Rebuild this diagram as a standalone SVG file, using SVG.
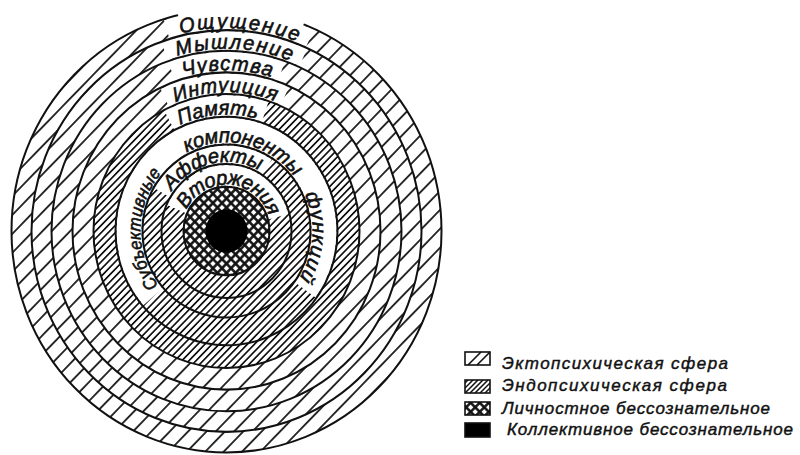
<svg xmlns="http://www.w3.org/2000/svg" width="800" height="455" viewBox="0 0 800 455">
<defs>
<pattern id="ectoA" patternUnits="userSpaceOnUse" width="13" height="13" patternTransform="rotate(45)">
<rect width="13" height="13" fill="#fff"/>
<line x1="6.5" y1="0" x2="6.5" y2="13" stroke="#111" stroke-width="1.7"/>
</pattern>
<pattern id="ectoB" patternUnits="userSpaceOnUse" width="13" height="13" patternTransform="rotate(45) translate(6.5 0)">
<rect width="13" height="13" fill="#fff"/>
<line x1="6.5" y1="0" x2="6.5" y2="13" stroke="#111" stroke-width="1.7"/>
</pattern>
<pattern id="endo" patternUnits="userSpaceOnUse" width="5" height="5" patternTransform="rotate(45)">
<rect width="5" height="5" fill="#fff"/>
<line x1="2.5" y1="0" x2="2.5" y2="5" stroke="#111" stroke-width="1.7"/>
</pattern>
<pattern id="cross" patternUnits="userSpaceOnUse" width="6.4" height="6.4" patternTransform="rotate(45)">
<rect width="6.4" height="6.4" fill="#fff"/>
<line x1="3.2" y1="0" x2="3.2" y2="6.4" stroke="#111" stroke-width="2.5"/>
<line x1="0" y1="3.2" x2="6.4" y2="3.2" stroke="#111" stroke-width="2.5"/>
</pattern>
<clipPath id="clipB2"><rect x="465" y="380" width="25" height="13"/></clipPath>
<path id="t197" d="M 0 197 A 197 197 0 1 1 0 -197 A 197 197 0 1 1 0 197"/>
<path id="t177" d="M 0 177 A 177 177 0 1 1 0 -177 A 177 177 0 1 1 0 177"/>
<path id="t156" d="M 0 156 A 156 156 0 1 1 0 -156 A 156 156 0 1 1 0 156"/>
<path id="t135" d="M 0 135 A 135 135 0 1 1 0 -135 A 135 135 0 1 1 0 135"/>
<path id="t113" d="M 0 113 A 113 113 0 1 1 0 -113 A 113 113 0 1 1 0 113"/>
<path id="t86" d="M 0 86 A 86 86 0 1 1 0 -86 A 86 86 0 1 1 0 86"/>
<path id="t67" d="M 0 67 A 67 67 0 1 1 0 -67 A 67 67 0 1 1 0 67"/>
<path id="t45" d="M 0 45 A 45 45 0 1 1 0 -45 A 45 45 0 1 1 0 45"/>
</defs>
<style>
.b{fill:none;stroke:#111;stroke-width:2}
.gap{fill:none;stroke:#fff}
.lbl{font-family:"Liberation Sans","DejaVu Sans",sans-serif;font-style:italic;font-size:20px;fill:#111;stroke:#111;stroke-width:0.6}
.leg{font-family:"Liberation Sans","DejaVu Sans",sans-serif;font-style:italic;font-size:17px;fill:#111;stroke:#111;stroke-width:0.45}
.box{stroke:#111;stroke-width:1.6}
</style>
<rect width="800" height="455" fill="#fff"/>
<g id="diagram" transform="translate(226.5 231) scale(1 1.03)">
<g id="fills">
<circle r="215" fill="url(#ectoA)"/>
<circle r="195" fill="url(#ectoB)"/>
<circle r="175" fill="url(#ectoA)"/>
<circle r="154" fill="url(#ectoB)"/>
<circle r="133" fill="url(#endo)"/>
<circle r="111" fill="url(#endo)"/>
<circle r="84" fill="url(#endo)"/>
<circle r="65" fill="url(#endo)"/>
<circle r="43" fill="url(#cross)"/>
<circle r="21" fill="#000"/>
</g>
<g id="gaps" class="gap">
<path d="M -59.9 -196.0 A 205 205 0 0 1 83.4 -187.3" stroke-width="18"/>
<path d="M -61.8 -174.4 A 185 185 0 0 1 76.7 -168.4" stroke-width="18"/>
<path d="M -54.9 -155.1 A 164.5 164.5 0 0 1 54.9 -155.1" stroke-width="19"/>
<path d="M -61.8 -129.5 A 143.5 143.5 0 0 1 58.4 -131.1" stroke-width="19"/>
<path d="M -57.3 -107.7 A 122 122 0 0 1 38.7 -115.7" stroke-width="20"/>
<path d="M -73.6 64.0 A 97.5 97.5 0 1 1 78.9 57.3" stroke-width="25"/>
<path d="M -64.5 -37.3 A 74.5 74.5 0 0 1 40.6 -62.5" stroke-width="17"/>
<path d="M -49.7 -21.1 A 54 54 0 0 1 52.2 -14.0" stroke-width="20"/>
</g>
<g id="boundaries" class="b">
<circle r="215"/>
<circle r="195"/>
<circle r="175"/>
<circle r="154"/>
<circle r="133"/>
<circle r="111"/>
<circle r="84"/>
<circle r="65"/>
<circle r="43"/>
</g>
<path d="M -48.4 -209.5 A 215 215 0 0 1 77.1 -200.7" fill="none" stroke="#fff" stroke-width="4"/>
<g id="labels" class="lbl">
<text><textPath href="#t197" startOffset="572.1" textLength="119" lengthAdjust="spacing">Ощущение</textPath></text>
<text><textPath href="#t177" startOffset="505.7" textLength="116" lengthAdjust="spacing">Мышление</textPath></text>
<text><textPath href="#t156" startOffset="446.3" textLength="89" lengthAdjust="spacing">Чувства</textPath></text>
<text><textPath href="#t135" startOffset="371.3" textLength="102.7" lengthAdjust="spacing">Интуиция</textPath></text>
<text><textPath href="#t113" startOffset="306.7" textLength="78.7" lengthAdjust="spacing">Память</textPath></text>
<text font-size="18"><textPath href="#t86" startOffset="78" textLength="118" lengthAdjust="spacingAndGlyphs">Субъективные</textPath></text>
<text><textPath href="#t86" startOffset="228.1" textLength="120.1" lengthAdjust="spacing">компоненты</textPath></text>
<text><textPath href="#t86" startOffset="367.7" textLength="85.6" lengthAdjust="spacing">функций</textPath></text>
<text><textPath href="#t67" startOffset="146.2" textLength="98.2" lengthAdjust="spacing">Аффекты</textPath></text>
<text><textPath href="#t45" startOffset="91.9" textLength="105.2" lengthAdjust="spacing">Вторжения</textPath></text>
</g>
</g>
<g id="legend">
<g id="leg-ecto">
<rect class="box" x="465" y="352" width="25" height="13" fill="#fff"/>
<line x1="468" y1="365" x2="481" y2="352" stroke="#111" stroke-width="1.6"/>
<line x1="477" y1="365" x2="490" y2="352" stroke="#111" stroke-width="1.6"/>
<text class="leg" x="502" y="369" textLength="226" lengthAdjust="spacing">Эктопсихическая сфера</text>
</g>
<g id="leg-endo">
<g clip-path="url(#clipB2)" stroke="#111" stroke-width="1.5">
<line x1="455" y1="393" x2="468" y2="380"/>
<line x1="460" y1="393" x2="473" y2="380"/>
<line x1="465" y1="393" x2="478" y2="380"/>
<line x1="470" y1="393" x2="483" y2="380"/>
<line x1="475" y1="393" x2="488" y2="380"/>
<line x1="480" y1="393" x2="493" y2="380"/>
<line x1="485" y1="393" x2="498" y2="380"/>
</g>
<rect class="box" x="465" y="380" width="25" height="13" fill="none"/>
<text class="leg" x="502" y="391" textLength="225" lengthAdjust="spacing">Эндопсихическая сфера</text>
</g>
<g id="leg-personal">
<rect class="box" x="465" y="402" width="25" height="13" fill="url(#cross)"/>
<text class="leg" x="502" y="414" textLength="268" lengthAdjust="spacing">Личностное бессознательное</text>
</g>
<g id="leg-collective">
<rect class="box" x="465" y="423" width="25" height="14" fill="#000"/>
<text class="leg" x="507" y="435" textLength="286" lengthAdjust="spacing">Коллективное бессознательное</text>
</g>
</g>
</svg>
